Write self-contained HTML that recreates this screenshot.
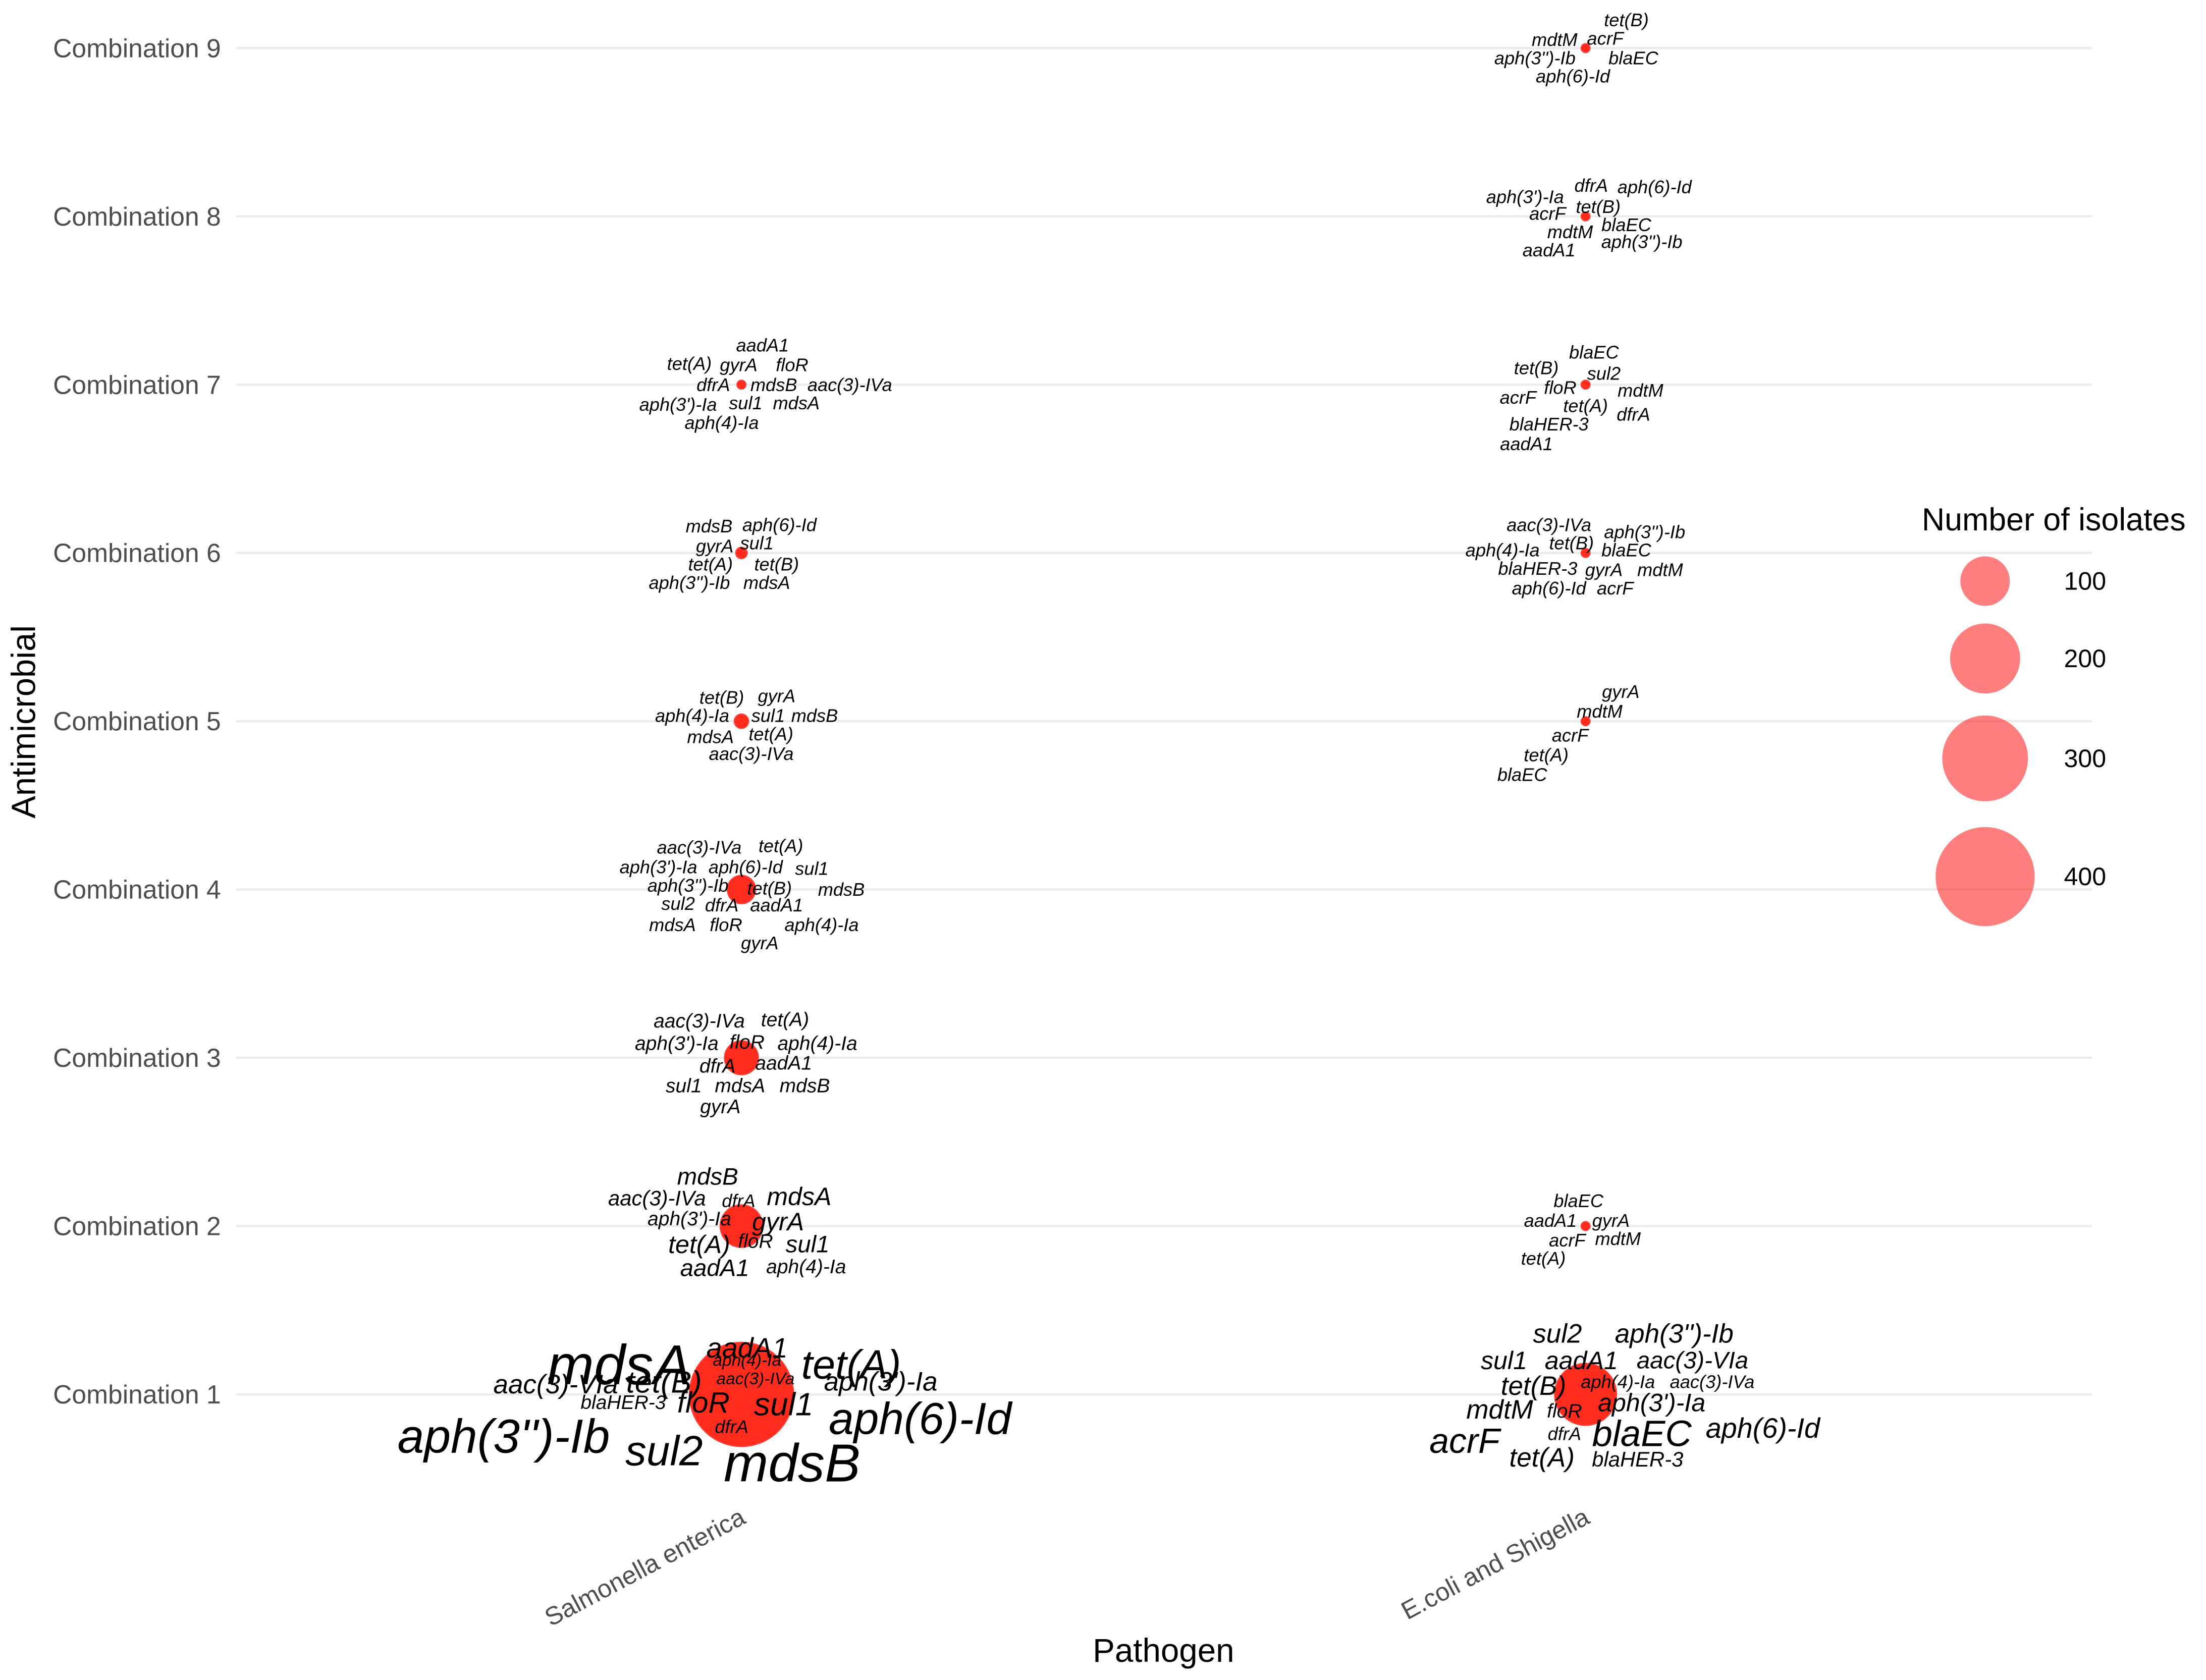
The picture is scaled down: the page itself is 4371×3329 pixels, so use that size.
<!DOCTYPE html>
<html><head><meta charset="utf-8"><style>
html,body{margin:0;padding:0;background:#fff;}
svg{display:block;}
text{font-family:"Liberation Sans",sans-serif;}
</style></head><body>
<svg id="chart" width="4371" height="3329" viewBox="0 0 1568 1194" preserveAspectRatio="none" xmlns="http://www.w3.org/2000/svg">
<g id="grid"></g>
<g id="yticks"></g>
<g id="xticks"></g>
<g id="bubbles"></g>
<g id="labels"></g>
<text x="0" y="0" transform="translate(25,513) rotate(-90)" text-anchor="middle" font-size="24" fill="#000">Antimicrobial</text>
<text x="827" y="1181" text-anchor="middle" font-size="23.5" fill="#000">Pathogen</text>
<g id="legend">
<text x="1366" y="377" font-size="22.5" fill="#000">Number of isolates</text>
</g>
</svg>
<script>
const NS="http://www.w3.org/2000/svg";
const categories=["Combination 1","Combination 2","Combination 3","Combination 4","Combination 5","Combination 6","Combination 7","Combination 8","Combination 9"];
const pathogens=["Salmonella enterica","E.coli and Shigella"];
const salmonellaCounts=[440,73,46,32,8,5,3,null,null];
const ecoliCounts=[155,3,null,null,3,3,3,3,3];
const legendValues=[100,200,300,400];
// gene labels: [pathogenIndex, comboIndex, text, dx, dy, size]
const geneLabels=[
[0,0,"mdsA",-87,-21,40],[0,0,"aadA1",4,-33,20],[0,0,"tet(A)",78,-21,29],[0,0,"aph(4)-Ia",4,-24,12],
[0,0,"aac(3)-VIa",-132,-7,19],[0,0,"tet(B)",-55,-9,22],[0,0,"aac(3)-IVa",10,-11,12],[0,0,"aph(3')-Ia",99,-9,19],
[0,0,"blaHER-3",-84,6,14],[0,0,"floR",-27,6,21],[0,0,"sul1",30,7,23],[0,0,"aph(6)-Id",127,17,32],
[0,0,"dfrA",-7,23,13],[0,0,"aph(3'')-Ib",-169,30,34],[0,0,"sul2",-55,40,30],[0,0,"mdsB",36,49,38],
[1,0,"sul2",-20,-43,19],[1,0,"aph(3'')-Ib",63,-43,19],[1,0,"sul1",-58,-24,18],[1,0,"aadA1",-3,-24,18],
[1,0,"aac(3)-VIa",76,-24,17],[1,0,"tet(B)",-37,-6,19],[1,0,"aph(4)-Ia",23,-9,13],[1,0,"aac(3)-IVa",90,-9,13],
[1,0,"mdtM",-61,11,19],[1,0,"floR",-15,12,14],[1,0,"aph(3')-Ia",47,6,18],[1,0,"acrF",-86,33,25],
[1,0,"dfrA",-15,28,13],[1,0,"blaEC",40,28,26],[1,0,"aph(6)-Id",126,24,20],[1,0,"tet(A)",-31,45,19],[1,0,"blaHER-3",37,46,15],
[0,1,"mdsB",-24,-35,17],[0,1,"aac(3)-IVa",-60,-20,15],[0,1,"dfrA",-2,-18,13],[0,1,"mdsA",41,-21,18],
[0,1,"aph(3')-Ia",-37,-5,14],[0,1,"gyrA",26,-3,18],[0,1,"tet(A)",-30,13,18],[0,1,"floR",10,11,14],
[0,1,"sul1",47,13,17],[0,1,"aadA1",-19,30,17],[0,1,"aph(4)-Ia",46,29,14],
[0,2,"aac(3)-IVa",-30,-26,14],[0,2,"tet(A)",31,-27,14],[0,2,"aph(3')-Ia",-46,-10,14],[0,2,"floR",4,-11,14],
[0,2,"aph(4)-Ia",54,-10,14],[0,2,"dfrA",-17,6,14],[0,2,"aadA1",30,4,14],[0,2,"sul1",-41,20,14],
[0,2,"mdsA",-1,20,14],[0,2,"mdsB",45,20,14],[0,2,"gyrA",-15,35,14],
[0,3,"aac(3)-IVa",-30,-30,13],[0,3,"tet(A)",28,-31,13],[0,3,"aph(3')-Ia",-59,-16,13],[0,3,"aph(6)-Id",3,-16,13],
[0,3,"sul1",50,-15,13],[0,3,"aph(3'')-Ib",-38,-3,13],[0,3,"tet(B)",20,-1,13],[0,3,"mdsB",71,0,13],
[0,3,"sul2",-45,10,13],[0,3,"dfrA",-14,11,13],[0,3,"aadA1",25,11,13],[0,3,"mdsA",-49,25,13],
[0,3,"floR",-11,25,13],[0,3,"aph(4)-Ia",57,25,13],[0,3,"gyrA",13,38,13],
[0,4,"tet(B)",-14,-17,13],[0,4,"gyrA",25,-18,13],[0,4,"aph(4)-Ia",-35,-4,13],[0,4,"sul1",19,-4,13],
[0,4,"mdsB",52,-4,13],[0,4,"mdsA",-22,11,13],[0,4,"tet(A)",21,9,13],[0,4,"aac(3)-IVa",7,23,13],
[0,5,"mdsB",-23,-19,13],[0,5,"aph(6)-Id",27,-20,13],[0,5,"gyrA",-19,-5,13],[0,5,"sul1",11,-7,13],
[0,5,"tet(A)",-22,8,13],[0,5,"tet(B)",25,8,13],[0,5,"aph(3'')-Ib",-37,21,13],[0,5,"mdsA",18,21,13],
[0,6,"aadA1",15,-28,13],[0,6,"tet(A)",-37,-15,13],[0,6,"gyrA",-2,-14,13],[0,6,"floR",36,-14,13],
[0,6,"dfrA",-20,0,13],[0,6,"mdsB",23,0,13],[0,6,"aac(3)-IVa",77,0,13],[0,6,"aph(3')-Ia",-45,14,13],
[0,6,"sul1",3,13,13],[0,6,"mdsA",39,13,13],[0,6,"aph(4)-Ia",-14,27,13],
[1,1,"blaEC",-5,-18,13],[1,1,"aadA1",-25,-4,13],[1,1,"gyrA",18,-4,13],[1,1,"acrF",-13,10,13],
[1,1,"mdtM",23,9,13],[1,1,"tet(A)",-30,23,13],
[1,4,"gyrA",25,-21,13],[1,4,"mdtM",10,-7,13],[1,4,"acrF",-11,10,13],[1,4,"tet(A)",-28,24,13],[1,4,"blaEC",-45,38,13],
[1,5,"aac(3)-IVa",-26,-20,13],[1,5,"aph(3'')-Ib",42,-15,13],[1,5,"aph(4)-Ia",-59,-2,13],[1,5,"tet(B)",-10,-7,13],
[1,5,"blaEC",29,-2,13],[1,5,"blaHER-3",-34,11,13],[1,5,"gyrA",13,12,13],[1,5,"mdtM",53,12,13],
[1,5,"aph(6)-Id",-26,25,13],[1,5,"acrF",21,25,13],
[1,6,"blaEC",6,-23,13],[1,6,"tet(B)",-35,-12,13],[1,6,"sul2",13,-8,13],[1,6,"floR",-18,2,13],
[1,6,"mdtM",39,4,13],[1,6,"acrF",-48,9,13],[1,6,"tet(A)",0,15,13],[1,6,"dfrA",34,21,13],
[1,6,"blaHER-3",-26,28,13],[1,6,"aadA1",-42,42,13],
[1,7,"aph(3')-Ia",-43,-14,13],[1,7,"dfrA",4,-22,13],[1,7,"aph(6)-Id",49,-21,13],[1,7,"tet(B)",9,-7,13],
[1,7,"acrF",-27,-2,13],[1,7,"blaEC",29,6,13],[1,7,"mdtM",-11,11,13],[1,7,"aadA1",-26,24,13],[1,7,"aph(3'')-Ib",40,18,13],
[1,8,"tet(B)",29,-20,13],[1,8,"mdtM",-22,-6,13],[1,8,"acrF",14,-7,13],[1,8,"aph(3'')-Ib",-36,7,13],
[1,8,"blaEC",34,7,13],[1,8,"aph(6)-Id",-9,20,13]
];
const plotLeft=168, plotRight=1487, yStep=119.6;
const xPos=[527,1127];
function yScale(i){return 991 - i*yStep;}
function xScale(p){return xPos[p];}
function rScale(n){return 1.76*Math.sqrt(n);}
function mk(tag,attrs,parent){const e=document.createElementNS(NS,tag);for(const k in attrs)e.setAttribute(k,attrs[k]);parent.appendChild(e);return e;}
const grid=document.getElementById('grid'),yt=document.getElementById('yticks'),xt=document.getElementById('xticks'),bub=document.getElementById('bubbles'),lab=document.getElementById('labels'),leg=document.getElementById('legend');
categories.forEach((c,i)=>{
  const y=yScale(i);
  const l=mk('line',{x1:plotLeft,x2:plotRight,y1:y,y2:y,stroke:'#ebebeb','stroke-width':1.6},grid);
  
  
  const t=mk('text',{x:157,y:y,'text-anchor':'end','dominant-baseline':'central','font-size':18.5,fill:'#4d4d4d'},yt);
  t.textContent=c;
  
  
});
pathogens.forEach((p,i)=>{
  const x=xScale(i)+4;
  const t=mk('text',{x:x,y:1082,'text-anchor':'end','font-size':18,fill:'#4d4d4d',transform:`rotate(-28 ${x} 1082)`},xt);
  t.textContent=p;
  
  
});
[salmonellaCounts,ecoliCounts].forEach((arr,p)=>{
  arr.forEach((n,i)=>{
    if(n==null)return;
    const c=mk('circle',{cx:xScale(p),cy:yScale(i),r:rScale(n),fill:'#ff1a0a','fill-opacity':0.92,stroke:'#ff3b30','stroke-width':1},bub);
    
    
  });
});
geneLabels.forEach(g=>{
  const t=mk('text',{x:xScale(g[0])+g[3],y:yScale(g[1])+g[4],'text-anchor':'middle','dominant-baseline':'central','font-size':g[5],'font-style':'italic',fill:'#000'},lab);
  t.textContent=g[2];
  
  
});
const legY=[413,468,539,623];
legendValues.forEach((v,i)=>{
  const c=mk('circle',{cx:1411,cy:legY[i],r:rScale(v),fill:'#ff0000','fill-opacity':0.5},leg);
  
  
  const t=mk('text',{x:1467,y:legY[i],'dominant-baseline':'central','font-size':18,fill:'#000'},leg);
  t.textContent=v;
  
  
});
</script>
</body></html>
